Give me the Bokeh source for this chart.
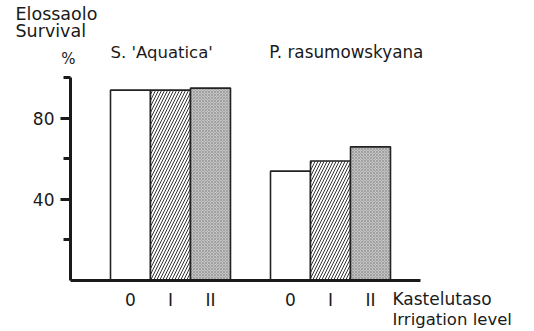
from bokeh.plotting import figure
from bokeh.models import (Range1d, LinearAxis, FixedTicker, Label, ColumnDataSource)
from bokeh.embed import file_html
from bokeh.resources import INLINE

# Survival (%) by irrigation level for two species
species = ["S. 'Aquatica'", "P. rasumowskyana"]
levels = ["0", "I", "II"]
survival_aquatica = [94, 94, 95]
survival_rasumowskyana = [54, 59, 66]

y_ticks_major = [40, 80]
y_ticks_minor = [20, 60, 100]

FONT = "DejaVu Sans"
INK = "#1a1a1a"

p = figure(width=534, height=331, output_backend="svg", toolbar_location=None,
           x_range=Range1d(-3.25, 10.1), y_range=Range1d(-25.19, 138.27),
           x_axis_type=None, y_axis_type=None,
           min_border_left=0, min_border_right=0, min_border_top=0,
           min_border_bottom=0, outline_line_color=None,
           background_fill_color="white", border_fill_color="white")
for g in p.grid:
    g.visible = False

# bar positions: three levels per species, groups four units apart
xs, tops, fills, hatches = [], [], [], []
styles = [("white", " "), ("white", "/"), ("#c4c4c4", "x")]
for gi, vals in enumerate([survival_aquatica, survival_rasumowskyana]):
    for li, v in enumerate(vals):
        xs.append(gi * 4 + li)
        tops.append(v)
        fills.append(styles[li][0])
        hatches.append(styles[li][1])

src = ColumnDataSource(dict(x=xs, top=tops, fill=fills, hatch=hatches,
                            hcol=["#333333" if h == "/" else "#8a8a8a" for h in hatches],
                            hw=[1.0 if h == "/" else 0.6 for h in hatches],
                            hs=[6.0 if h == "/" else 3.0 for h in hatches]))
p.vbar(x="x", top="top", bottom=0, width=1.0, source=src,
       fill_color="fill", line_color="#222222", line_width=1.6,
       hatch_pattern="hatch", hatch_color="hcol", hatch_weight="hw",
       hatch_scale="hs")

yaxis = LinearAxis(fixed_location=-1.5, bounds=(0, 100),
                   ticker=FixedTicker(ticks=y_ticks_major, minor_ticks=y_ticks_minor),
                   axis_line_width=3, axis_line_color=INK,
                   major_tick_line_width=3, major_tick_line_color=INK,
                   minor_tick_line_width=3, minor_tick_line_color=INK,
                   major_tick_out=10, major_tick_in=0,
                   minor_tick_out=7, minor_tick_in=0,
                   major_label_standoff=6,
                   major_label_text_font=FONT, major_label_text_font_size="17px",
                   major_label_text_color=INK)
p.add_layout(yaxis, "left")

x_tick_pos = [gi * 4 + li for gi in range(len(species)) for li in range(len(levels))]
xaxis = LinearAxis(fixed_location=0, bounds=(-1.5, 7.25),
                   ticker=FixedTicker(ticks=x_tick_pos, minor_ticks=[]),
                   major_label_overrides={t: levels[t % 4] for t in x_tick_pos},
                   axis_line_width=3, axis_line_color=INK,
                   major_tick_line_color=None, minor_tick_line_color=None,
                   major_label_standoff=4,
                   major_label_text_font=FONT, major_label_text_font_size="17px",
                   major_label_text_color=INK)
p.add_layout(xaxis, "below")


def label(x, y, text, size="17px", align="left"):
    p.add_layout(Label(x=x, y=y, text=text, text_font=FONT, text_font_size=size,
                       text_color=INK, text_align=align, text_baseline="middle"))


label(-2.875, 131.8, "Elossaolo", size="17.5px")
label(-2.875, 123.0, "Survival", size="17.5px")
label(-1.55, 109.5, "%", size="15px", align="center")
label(-0.5, 112.5, species[0], size="16.5px")
label(3.47, 113.0, species[1], size="16.8px")
label(6.55, -8.9, "Kastelutaso")
label(6.55, -19.2, "Irrigation level", size="16.5px")

open("out.html", "w").write(file_html(p, INLINE))
